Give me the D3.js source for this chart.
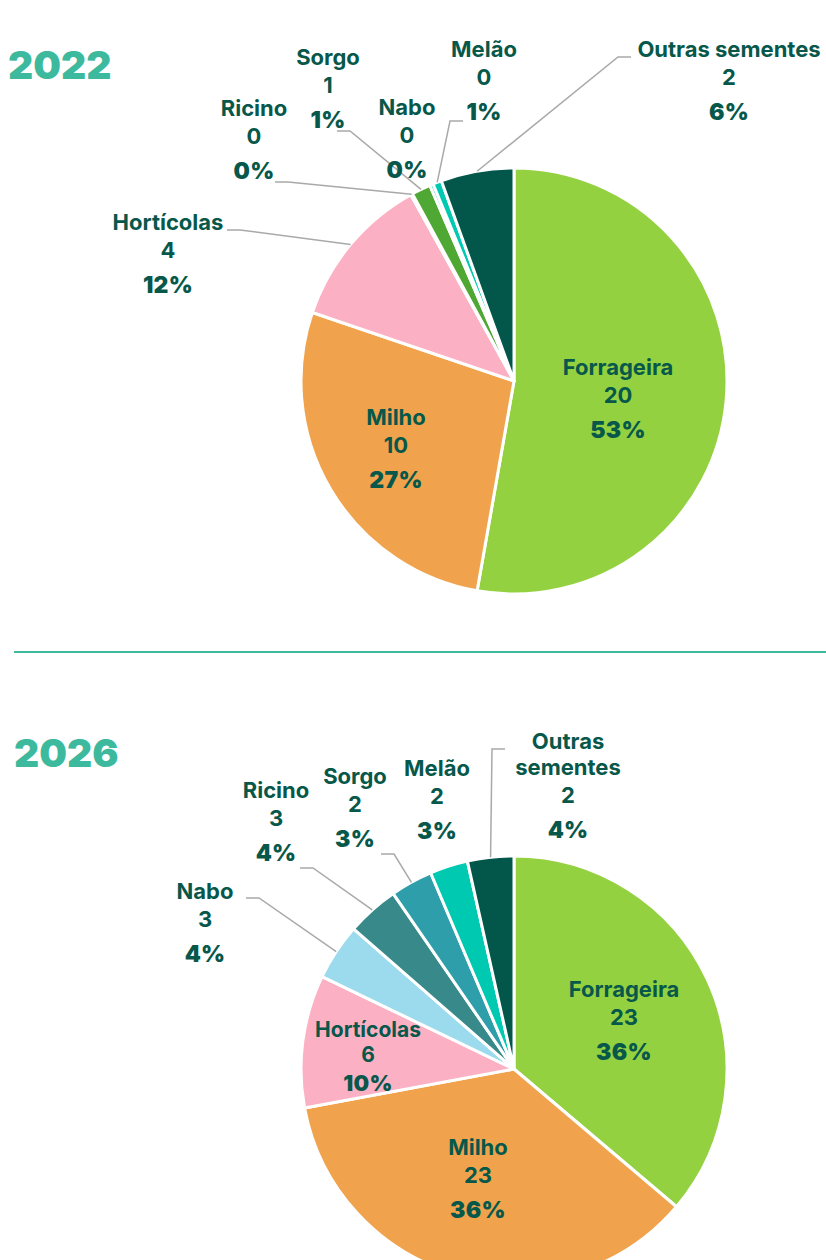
<!DOCTYPE html>
<html>
<head>
<meta charset="utf-8">
<script src="https://cdn.jsdelivr.net/npm/d3@7"></script>
<style>
  body { margin: 0; background: #fff; }
  svg { display: block; }
  text { font-family: Inter, "Noto Sans", sans-serif; fill: #07584a; }
</style>
</head>
<body>
<div id="chart"></div>
<script>
// ---- data ----
const categories2022 = ['Forrageira', 'Milho', 'Hortícolas', 'Ricino', 'Sorgo', 'Nabo', 'Melão', 'Outras sementes'];
const values2022 = [20.0, 10.4, 4.45, 0.05, 0.55, 0.1, 0.25, 2.1];

const categories2026 = ['Forrageira', 'Milho', 'Hortícolas', 'Nabo', 'Ricino', 'Sorgo', 'Melão', 'Outras sementes'];
const values2026 = [23.2, 23.0, 6.45, 2.75, 2.55, 2.05, 1.85, 2.25];

const years = ['2022', '2026'];

// ---- styles ----
const colors2022 = ['#94d141', '#f0a34c', '#fcb0c4', '#4ea833', '#4ea833', '#00c9b1', '#00c9b1', '#03574a'];
const colors2026 = ['#94d141', '#f0a34c', '#fcb0c4', '#9cdbed', '#37898a', '#2e9eaa', '#00c9b1', '#03574a'];

// label anchor (centre of first line) relative to pie centre, leader end point, line breaks
const layout2022 = [
	{ x: 104, y: -14 },
	{ x: -118, y: 36 },
	{ x: -346, y: -159, end: [-287, -151] },
	{ x: -260, y: -273, end: [-239, -199] },
	{ x: -186, y: -324, end: [-177, -250] },
	{ x: -107, y: -274 },
	{ x: -30, y: -332, end: [-51, -260] },
	{ x: 215, y: -332, end: [117, -324] },
];
const layout2026 = [
	{ x: 110, y: -80 },
	{ x: -36, y: 78 },
	{ x: -146, y: -40, gap1: 25, gap2: 29, size: 21 },
	{ x: -309, y: -178, end: [-268, -171] },
	{ x: -238, y: -279, end: [-214, -201] },
	{ x: -159, y: -293, end: [-133, -215] },
	{ x: -77, y: -301 },
	{ x: 54, y: -328, end: [-9, -320], wrap: ['Outras', 'sementes'] },
];

const width = 826;
const height = 1260;
const radius = 213;

const svg = d3.select('#chart').append('svg')
	.attr('width', width)
	.attr('height', height);

function drawPie(cx, cy, titleX, titleY, year, categories, values, colors, layout) {
	const g = svg.append('g').attr('transform', `translate(${cx},${cy})`);

	svg.append('text')
		.attr('x', titleX)
		.attr('y', titleY)
		.attr('font-size', 39)
		.attr('font-weight', 900)
		.style('fill', '#3dba9d')
		.text(year);

	const data = categories.map((c, i) => ({ name: c, value: values[i], color: colors[i], lab: layout[i] }));
	const total = d3.sum(values);

	const pie = d3.pie().sort(null).value((d) => d.value);
	const arc = d3.arc().innerRadius(0).outerRadius(radius);
	const arcs = pie(data);

	g.selectAll('.slice')
		.data(arcs)
		.join('path')
		.attr('class', 'slice')
		.attr('d', arc)
		.attr('fill', (d) => d.data.color)
		.attr('stroke', '#fff')
		.attr('stroke-width', 3)
		.attr('stroke-linejoin', 'round');

	// leader lines
	g.selectAll('.leader')
		.data(arcs.filter((d) => d.data.lab.end))
		.join('polyline')
		.attr('class', 'leader')
		.attr('fill', 'none')
		.attr('stroke', '#a9a9a9')
		.attr('stroke-width', 1.5)
		.attr('points', (d) => {
			const a = (d.startAngle + d.endAngle) / 2;
			const px = radius * Math.sin(a);
			const py = -radius * Math.cos(a);
			const [ex, ey] = d.data.lab.end;
			const bx = ex + 13 * Math.sign(px - ex);
			return [[px, py], [bx, ey], [ex, ey]].map((p) => p.join(',')).join(' ');
		});

	const fmtVal = d3.format('.0f');
	const fmtPct = (v) => d3.format('.0f')((v / total) * 100) + '%';

	const labels = g.selectAll('.label')
		.data(arcs)
		.join('g')
		.attr('class', 'label')
		.attr('transform', (d) => `translate(${d.data.lab.x},${d.data.lab.y})`);

	labels.each(function (d) {
		const el = d3.select(this);
		const names = d.data.lab.wrap || [d.data.name];
		const gap1 = d.data.lab.gap1 || 28;
		const gap2 = d.data.lab.gap2 || 35;
		const size = d.data.lab.size || 22;
		let y = 8;
		names.forEach((n) => {
			el.append('text')
				.attr('text-anchor', 'middle')
				.attr('y', y)
				.attr('font-size', size)
				.attr('font-weight', 700)
				.text(n);
			y += 26;
		});
		y += gap1 - 26;
		el.append('text')
			.attr('text-anchor', 'middle')
			.attr('y', y)
			.attr('font-size', size)
			.attr('font-weight', 700)
			.text(fmtVal(d.data.value));
		y += gap2;
		el.append('text')
			.attr('text-anchor', 'middle')
			.attr('y', y)
			.attr('font-size', size + 1)
			.attr('font-weight', 900)
			.attr('letter-spacing', 0.3)
			.text(fmtPct(d.data.value));
	});
}

drawPie(514, 381, 8, 79, years[0], categories2022, values2022, colors2022, layout2022);

svg.append('line')
	.attr('x1', 14)
	.attr('x2', width)
	.attr('y1', 652)
	.attr('y2', 652)
	.attr('stroke', '#3dba9d')
	.attr('stroke-width', 2);

drawPie(514, 1069, 14, 767, years[1], categories2026, values2026, colors2026, layout2026);
</script>
</body>
</html>
